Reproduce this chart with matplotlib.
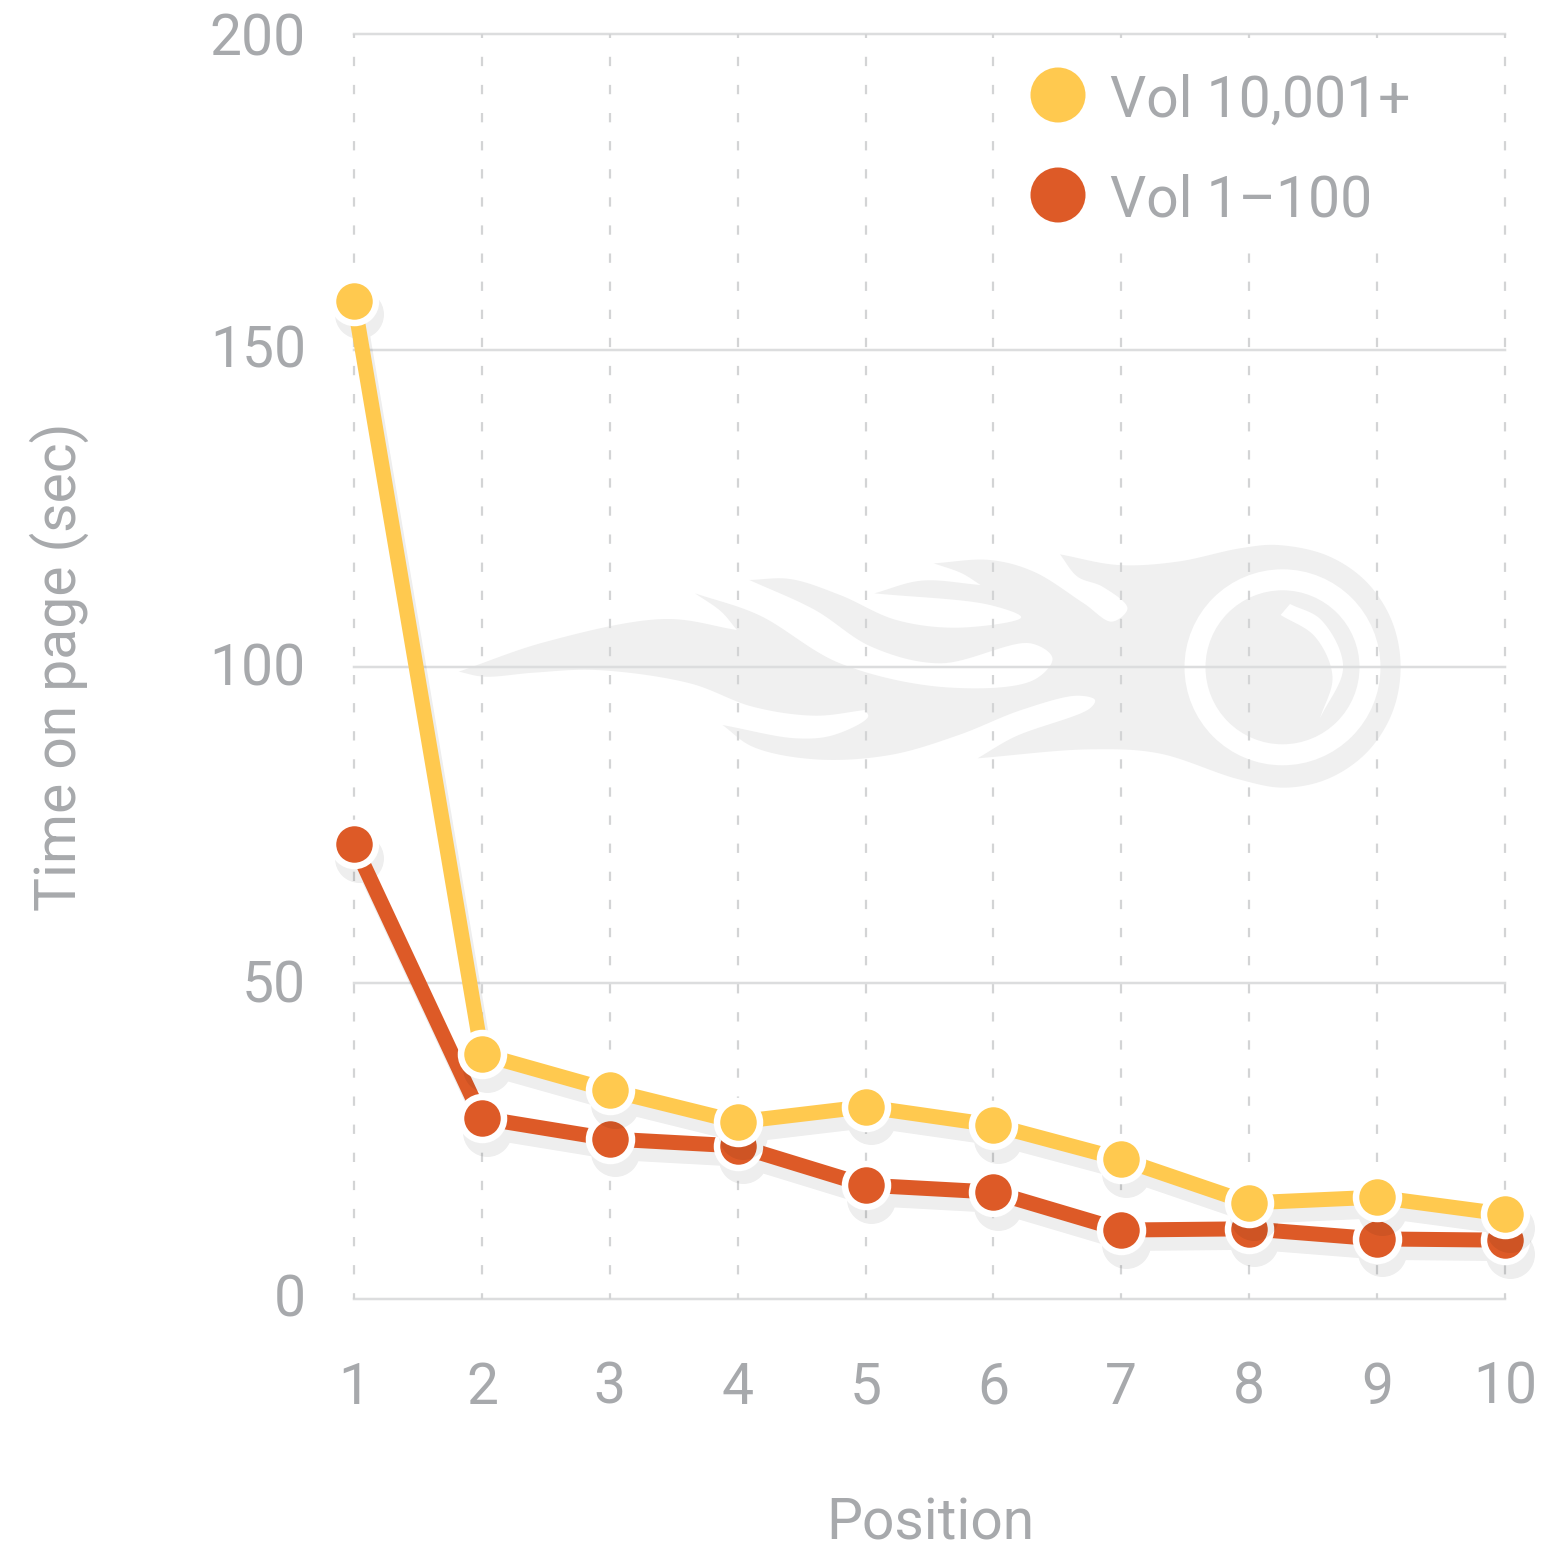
import matplotlib
matplotlib.use("Agg")
import matplotlib.pyplot as plt
import numpy as np
from matplotlib.patches import Circle, PathPatch, Rectangle
from matplotlib.path import Path
from matplotlib.transforms import Affine2D, ScaledTranslation

positions = [1, 2, 3, 4, 5, 6, 7, 8, 9, 10]
vol_high = [157.8, 38.7, 33.0, 28.0, 30.4, 27.5, 22.1, 15.2, 16.1, 13.4]
vol_low = [71.9, 28.6, 25.3, 24.2, 18.0, 16.9, 10.9, 11.1, 9.5, 9.3]
y_ticks = [0, 50, 100, 150, 200]
y_tick_nudge = [4, 2, 2, 4, 0]

YELLOW = "#FFC94F"
RED = "#DD5A27"
TEXT = "#A7A9AC"
GRID = "#DCDDDE"
LOGO = "#F0F0F0"

W, H = 1548, 1550
PX = 0.72  # one pixel in points at dpi 100
FS = 57 * PX

plt.rcParams["font.family"] = ["Roboto", "DejaVu Sans"]
plt.rcParams["lines.scale_dashes"] = False

fig = plt.figure(figsize=(W / 100, H / 100), dpi=100)
ax = fig.add_axes([354 / W, (H - 1299) / H, (1505 - 354) / W, (1299 - 34) / H])
ax.set_xlim(1, 10)
ax.set_ylim(0, 200)
ax.axis("off")

# pixel coordinates of the picture, for logo and legend
pix = Affine2D().scale(1, -1).translate(0, H)


def smooth(pts, n=16):
    # centripetal catmull-rom through the points, only for the logo outline
    p = np.array(pts, dtype=float)
    p = np.vstack([2 * p[0] - p[1], p, 2 * p[-1] - p[-2]])
    out = []
    for i in range(1, len(p) - 2):
        p0, p1, p2, p3 = p[i - 1], p[i], p[i + 1], p[i + 2]
        t1 = np.linalg.norm(p1 - p0) ** 0.5
        t2 = t1 + np.linalg.norm(p2 - p1) ** 0.5
        t3 = t2 + np.linalg.norm(p3 - p2) ** 0.5
        for t in np.linspace(t1, t2, n, endpoint=False):
            a1 = ((t1 - t) * p0 + t * p1) / t1
            a2 = ((t2 - t) * p1 + (t - t1) * p2) / (t2 - t1)
            a3 = ((t3 - t) * p2 + (t - t2) * p3) / (t3 - t2)
            b1 = ((t2 - t) * a1 + t * a2) / t2
            b2 = ((t3 - t) * a2 + (t - t1) * a3) / (t3 - t1)
            out.append(((t2 - t) * b1 + (t - t1) * b2) / (t2 - t1))
    out.append(p[-2])
    return out


def logo_pts(runs):
    out = []
    for run in runs:
        run = [(440 + a / 1.6, 530 + b / 3) for a, b in run]
        out += smooth(run)
    return np.array(out)


flame = [
    [(30, 425), (170, 335), (360, 267), (475, 300)],
    [(475, 300), (450, 245), (408, 190)],
    [(408, 190), (510, 255), (640, 400), (810, 472), (950, 450), (980, 385), (945, 340), (800, 400), (690, 350),
     (600, 240), (495, 150)],
    [(495, 150), (560, 147), (640, 195), (730, 270), (830, 293), (930, 262), (880, 225), (695, 190)],
    [(695, 190), (770, 152), (865, 165)],
    [(865, 165), (835, 130), (790, 100)],
    [(790, 100), (880, 90), (950, 125), (1030, 220), (1075, 275), (1100, 235), (1060, 170), (1020, 140), (992, 73)],
    [(992, 73), (1085, 105), (1180, 95), (1280, 55), (1340, 45), (1420, 77), (1482, 155), (1523, 273), (1537, 412),
     (1523, 551), (1482, 669), (1420, 747), (1350, 773), (1276, 747), (1150, 670), (1040, 658), (860, 685)],
    [(860, 685), (920, 620), (1040, 535), (1048, 510), (1020, 497), (930, 540), (830, 615), (720, 675), (600, 688),
     (500, 650), (452, 585)],
    [(452, 585), (570, 625), (630, 615), (685, 560), (680, 540)],
    [(680, 540), (600, 557), (500, 530), (400, 460), (250, 420), (150, 428), (70, 440), (30, 425)],
]
crescent = [
    [(1360, 222), (1410, 270), (1445, 410), (1408, 565)],
    [(1408, 565), (1428, 440), (1400, 320), (1345, 255)],
    [(1345, 255), (1360, 222)],
]
ax.add_patch(PathPatch(Path(logo_pts(flame)), fc=LOGO, ec="none", transform=pix, clip_on=False, zorder=0.1))
ax.add_patch(Circle((1282.5, 667.3), 98, fc="white", ec="none", transform=pix, clip_on=False, zorder=0.2))
ax.add_patch(Circle((1282.5, 667.3), 77, fc=LOGO, ec="none", transform=pix, clip_on=False, zorder=0.3))
ax.add_patch(PathPatch(Path(logo_pts(crescent)), fc="white", ec="none", transform=pix, clip_on=False, zorder=0.4))

# grid
for y in y_ticks:
    ax.axhline(y, color=GRID, lw=2.5 * PX, zorder=1, clip_on=False)
for x in positions:
    ax.plot([x, x], [200, 0], color="#D3D4D5", lw=2.2 * PX, zorder=1, clip_on=False, dash_capstyle="butt",
            linestyle=(5.3 * PX, (9.3 * PX, 18.8 * PX)))


def soft(img, dpi):
    # whole shadow of a series at one opacity, line and dots together
    img = img.copy()
    img[..., 3] *= 0.07
    return img, 0, 0


shadow_shift = ax.transData + ScaledTranslation(5 * PX / 72, -13.5 * PX / 72, fig.dpi_scale_trans)

for i, (vals, col) in enumerate([(vol_low, RED), (vol_high, YELLOW)]):
    z = 2 + i
    ax.plot(positions, vals, color="black", lw=15 * PX, marker="o", ms=49 * PX, mew=0, clip_on=False,
            transform=shadow_shift, zorder=z, agg_filter=soft)
    ax.plot(positions, vals, color=col, lw=15 * PX, clip_on=False, zorder=z + 0.1)
    ax.plot(positions, vals, ls="none", marker="o", ms=43 * PX, mfc=col, mec="white", mew=6.5 * PX, clip_on=False,
            zorder=z + 0.2)

# tick labels
for y, nudge in zip(y_ticks, y_tick_nudge):
    ax.annotate(str(y), (1, y), xytext=(306 - 354, nudge), textcoords="offset pixels", ha="right",
                va="center_baseline", fontsize=FS, color=TEXT, annotation_clip=False)
for x in positions:
    ax.annotate(str(x), (x, 0), xytext=(0, -83), textcoords="offset pixels", ha="center", va="center_baseline",
                fontsize=FS, color=TEXT, annotation_clip=False)

ax.text(930, 1518, "Position", transform=pix, ha="center", va="center_baseline", fontsize=FS, color=TEXT)
ax.text(59.5, 667, "Time on page (sec)", transform=pix, ha="center", va="center", rotation=90, fontsize=FS,
        color=TEXT)

# legend sits on a white box that hides the grid
ax.add_patch(Rectangle((1015, 42), 405, 203, fc="white", ec="none", transform=pix, clip_on=False, zorder=5))
for cy, col, label in [(95, YELLOW, "Vol 10,001+"), (195, RED, "Vol 1–100")]:
    ax.add_patch(Circle((1058, cy), 27.5, fc=col, ec="none", transform=pix, clip_on=False, zorder=6))
    ax.text(1110, cy, label, transform=pix, ha="left", va="center_baseline", fontsize=FS, color=TEXT, zorder=6)

fig.savefig("out.png", dpi=100)
